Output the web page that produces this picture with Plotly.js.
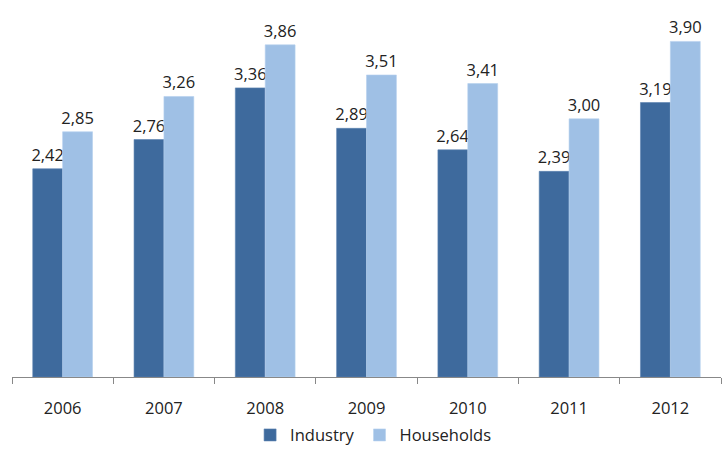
<!DOCTYPE html>
<html>
<head>
<meta charset="utf-8">
<script src="https://cdn.plot.ly/plotly-3.0.1.min.js"></script>
<style>html,body{margin:0;padding:0;background:#fff;}#chart{width:724px;height:471px;}</style>
</head>
<body>
<div id="chart"></div>
<script>
const years = ["2006","2007","2008","2009","2010","2011","2012"];
const industry = [2.42, 2.76, 3.36, 2.89, 2.64, 2.39, 3.19];
const households = [2.85, 3.26, 3.86, 3.51, 3.41, 3.00, 3.90];

const fontFam = "'Open Sans', 'DejaVu Sans', sans-serif";
const traces = [
  {type:'bar', name:'Industry', x:years, y:industry,
   marker:{color:'#3E6A9D', line:{color:'#5A82B0', width:0.6}},
   texttemplate:'%{y:.2f}', textposition:'outside', cliponaxis:false, constraintext:'none',
   textfont:{size:16.5, color:'#222', family:fontFam}},
  {type:'bar', name:'Households', x:years, y:households,
   marker:{color:'#9FC0E5', line:{color:'#B5D0EE', width:0.6}},
   texttemplate:'%{y:.2f}', textposition:'outside', cliponaxis:false, constraintext:'none',
   textfont:{size:16.5, color:'#222', family:fontFam}}
];
const layout = {
  width:724, height:471,
  margin:{l:12, r:3, t:7, b:94},
  separators:',.',
  barmode:'group', bargap:0.41, bargroupgap:0,
  paper_bgcolor:'#fff', plot_bgcolor:'#fff',
  font:{family:fontFam, size:16.5, color:'#222'},
  xaxis:{type:'category', showline:true, linecolor:'#888', linewidth:1,
         ticks:'outside', tickson:'boundaries', ticklen:6, tickcolor:'#888',
         ticklabelstandoff:16,
         tickfont:{size:16.5, color:'#222'}, showgrid:false},
  yaxis:{range:[0,4.3], visible:false, showgrid:false, zeroline:false},
  showlegend:true,
  legend:{orientation:'h', x:0.51, xanchor:'center', y:-0.11, yanchor:'top',
          font:{size:16.5, color:'#222'}, itemwidth:30, tracegroupgap:0}
};
Plotly.newPlot('chart', traces, layout, {displayModeBar:false, staticPlot:true});
</script>
</body>
</html>
